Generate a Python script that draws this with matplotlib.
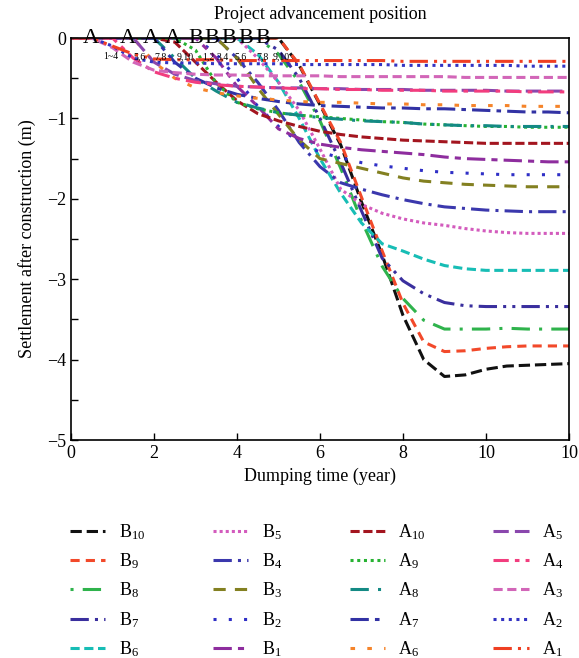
import numpy as np
import matplotlib
matplotlib.use('Agg')
import matplotlib.pyplot as plt

plt.rcParams['font.family'] = ['Liberation Serif', 'DejaVu Serif']
plt.rcParams['mathtext.fontset'] = 'custom'
plt.rcParams['mathtext.rm'] = 'Liberation Serif'
plt.rcParams['mathtext.it'] = 'Liberation Serif:italic'

# dumping time grid (year)
years = np.arange(0, 12.01, 0.5)

B10 = [0, 0, 0, 0, 0, 0, 0, 0, 0, 0, 0, -0.34, -0.83, -1.33, -2.04, -2.70, -3.45, -4.00, -4.21, -4.19, -4.12, -4.08, -4.07, -4.06, -4.05]
B9 = [0, 0, 0, 0, 0, 0, 0, 0, 0, 0, 0, -0.33, -0.82, -1.30, -1.98, -2.65, -3.30, -3.78, -3.90, -3.89, -3.86, -3.84, -3.83, -3.83, -3.83]
B8 = [0, 0, 0, 0, 0, 0, 0, 0, 0, 0, -0.20, -0.55, -1.03, -1.62, -2.27, -2.84, -3.24, -3.51, -3.62, -3.62, -3.62, -3.61, -3.62, -3.62, -3.62]
B7 = [0, 0, 0, 0, 0, 0, 0, 0, 0, 0, -0.15, -0.50, -1.00, -1.55, -2.15, -2.74, -3.02, -3.18, -3.29, -3.33, -3.34, -3.34, -3.34, -3.34, -3.34]
B6 = [0, 0, 0, 0, 0, 0, 0, 0, 0, -0.20, -0.55, -1.00, -1.50, -1.93, -2.30, -2.56, -2.65, -2.75, -2.83, -2.87, -2.89, -2.89, -2.89, -2.89, -2.89]
B5 = [0, 0, 0, 0, 0, 0, 0, 0, 0, -0.25, -0.55, -0.90, -1.38, -1.88, -2.07, -2.18, -2.25, -2.30, -2.33, -2.37, -2.40, -2.42, -2.43, -2.43, -2.43]
B4 = [0, 0, 0, 0, 0, 0, 0, 0, -0.25, -0.55, -0.90, -1.30, -1.60, -1.80, -1.88, -1.95, -2.01, -2.06, -2.10, -2.12, -2.14, -2.15, -2.16, -2.16, -2.16]
B3 = [0, 0, 0, 0, 0, 0, 0, 0, -0.25, -0.62, -0.95, -1.27, -1.50, -1.56, -1.62, -1.68, -1.74, -1.78, -1.80, -1.82, -1.83, -1.84, -1.85, -1.85, -1.85]
B2 = [0, 0, 0, 0, 0, 0, 0, -0.20, -0.50, -0.85, -1.10, -1.30, -1.42, -1.49, -1.55, -1.59, -1.62, -1.65, -1.67, -1.68, -1.69, -1.70, -1.70, -1.70, -1.70]
B1 = [0, 0, 0, 0, 0, 0, 0, -0.25, -0.60, -0.85, -1.13, -1.25, -1.32, -1.36, -1.39, -1.41, -1.43, -1.45, -1.48, -1.50, -1.51, -1.52, -1.53, -1.54, -1.54]
A10 = [0, 0, 0, 0, 0, -0.05, -0.30, -0.55, -0.78, -0.94, -1.03, -1.10, -1.16, -1.20, -1.23, -1.25, -1.27, -1.28, -1.29, -1.30, -1.31, -1.31, -1.31, -1.31, -1.31]
A9 = [0, 0, 0, 0, 0, 0, -0.15, -0.56, -0.80, -0.88, -0.93, -0.96, -0.98, -1.00, -1.02, -1.04, -1.05, -1.07, -1.08, -1.09, -1.10, -1.10, -1.11, -1.11, -1.11]
A8 = [0, 0, 0, 0, 0, -0.25, -0.50, -0.66, -0.80, -0.87, -0.93, -0.96, -0.99, -1.01, -1.03, -1.04, -1.05, -1.07, -1.08, -1.09, -1.09, -1.10, -1.10, -1.10, -1.10]
A7 = [0, 0, 0, 0, 0, -0.30, -0.50, -0.62, -0.70, -0.75, -0.79, -0.82, -0.84, -0.85, -0.86, -0.87, -0.87, -0.88, -0.88, -0.89, -0.90, -0.91, -0.92, -0.92, -0.93]
A6 = [0, 0, 0, 0, -0.30, -0.50, -0.62, -0.68, -0.72, -0.75, -0.77, -0.79, -0.80, -0.80, -0.81, -0.82, -0.82, -0.83, -0.83, -0.84, -0.84, -0.84, -0.85, -0.85, -0.85]
A5 = [0, 0, 0, 0, -0.30, -0.45, -0.53, -0.57, -0.60, -0.61, -0.62, -0.62, -0.63, -0.63, -0.64, -0.64, -0.64, -0.65, -0.65, -0.65, -0.65, -0.66, -0.66, -0.66, -0.66]
A4 = [0, 0, 0, -0.25, -0.42, -0.50, -0.55, -0.58, -0.60, -0.61, -0.62, -0.63, -0.63, -0.64, -0.64, -0.65, -0.65, -0.65, -0.66, -0.66, -0.66, -0.66, -0.67, -0.67, -0.67]
A3 = [0, 0, -0.12, -0.30, -0.40, -0.43, -0.45, -0.46, -0.46, -0.47, -0.47, -0.47, -0.47, -0.48, -0.48, -0.48, -0.48, -0.48, -0.48, -0.49, -0.49, -0.49, -0.49, -0.49, -0.49]
A2 = [0, 0, -0.10, -0.25, -0.30, -0.31, -0.31, -0.32, -0.32, -0.32, -0.32, -0.33, -0.33, -0.33, -0.33, -0.33, -0.34, -0.34, -0.34, -0.34, -0.34, -0.34, -0.35, -0.35, -0.35]
A1 = [0, 0, -0.10, -0.20, -0.26, -0.27, -0.27, -0.27, -0.28, -0.28, -0.28, -0.28, -0.28, -0.28, -0.28, -0.28, -0.29, -0.29, -0.29, -0.29, -0.29, -0.29, -0.29, -0.29, -0.29]

series_names = ['B10', 'B9', 'B8', 'B7', 'B6', 'B5', 'B4', 'B3', 'B2', 'B1',
                'A10', 'A9', 'A8', 'A7', 'A6', 'A5', 'A4', 'A3', 'A2', 'A1']
series_values = [B10, B9, B8, B7, B6, B5, B4, B3, B2, B1,
                 A10, A9, A8, A7, A6, A5, A4, A3, A2, A1]

# project advancement position labels along the top
adv_letters = ['A', 'A', 'A', 'A', 'B', 'B', 'B', 'B', 'B']
adv_letter_x = [0.49, 1.37, 1.92, 2.45, 3.0, 3.4, 3.81, 4.22, 4.63]
adv_subs = ['1~4', '5,6', '7,8', '9,10', '1,2', '3,4', '5,6', '7,8', '9,10']
adv_sub_x = [0.97, 1.65, 2.16, 2.75, 3.3, 3.66, 4.08, 4.62, 5.06]

xtick_pos = [0, 2, 4, 6, 8, 10, 12]
xtick_labels = ['0', '2', '4', '6', '8', '10', '10']

colors = ['#111111', '#f2492a', '#2fb34c', '#3a2f9e', '#17bdb5',
          '#d35bbd', '#3b38ad', '#838021', '#2f2fc6', '#8e2d9e',
          '#a3151f', '#27b233', '#148a84', '#3232a4', '#f5842a',
          '#8a47ad', '#f23d7e', '#d266b8', '#3333c2', '#ef3f22']
styles = ['--', (0, (3, 2)), (0, (1, 3, 6, 3)), (0, (6, 2, 1, 2, 1, 2)), (0, (3, 1.5)),
          (0, (1, 1)), (0, (6, 2, 1, 2)), (0, (4, 3)), (0, (1, 4)), (0, (6, 2, 2, 2)),
          (0, (3, 1.2)), (0, (1, 1.2)), (0, (6, 3, 1, 3)), (0, (6, 2, 1.5, 2)), (0, (1.5, 4)),
          (0, (5, 2)), (0, (5, 2, 1.5, 2)), (0, (3, 1.5)), (0, (1, 1.5)), (0, (6, 2, 1, 2, 1, 2))]

fig = plt.figure(figsize=(5.79, 6.58), dpi=100)
ax = fig.add_axes([0.1226, 0.3313, 0.8601, 0.6109])

handles = []
for name, vals, c, ls in zip(series_names, series_values, colors, styles):
    h, = ax.plot(years, vals, color=c, linestyle=ls, lw=2.2,
                 label=name[0] + '$_{' + name[1:] + '}$')
    handles.append(h)

for letter, lx in zip(adv_letters, adv_letter_x):
    ax.text(lx, 0.0, letter, fontsize=16, ha='center', va='center', clip_on=False)
for sub, sx in zip(adv_subs, adv_sub_x):
    ax.text(sx, -0.23, sub, fontsize=7, ha='center', va='center')

ax.set_xlim(0, 12)
ax.set_ylim(-5, 0)
ax.set_xticks(xtick_pos)
ax.set_xticklabels(xtick_labels)
ax.set_yticks([0, -1, -2, -3, -4, -5])
ax.set_yticks(np.arange(-4.5, 0, 1.0), minor=True)
ax.tick_params(direction='in', labelsize=13, length=5, width=1)
ax.tick_params(which='minor', direction='in', length=5, width=1)
for sp in ax.spines.values():
    sp.set_linewidth(1.2)

ax.set_title('Project advancement position', fontsize=13, pad=14)
ax.set_xlabel('Dumping time (year)', fontsize=13, labelpad=4)
ax.set_ylabel('Settlement after construction (m)', fontsize=13, labelpad=8)

fig.legend(handles=handles, loc='upper left', bbox_to_anchor=(0.093, 0.231),
           ncol=4, frameon=False, fontsize=13, handlelength=1.95,
           handletextpad=0.75, columnspacing=3.75, labelspacing=0.53)

fig.savefig('out.png', dpi=100)
